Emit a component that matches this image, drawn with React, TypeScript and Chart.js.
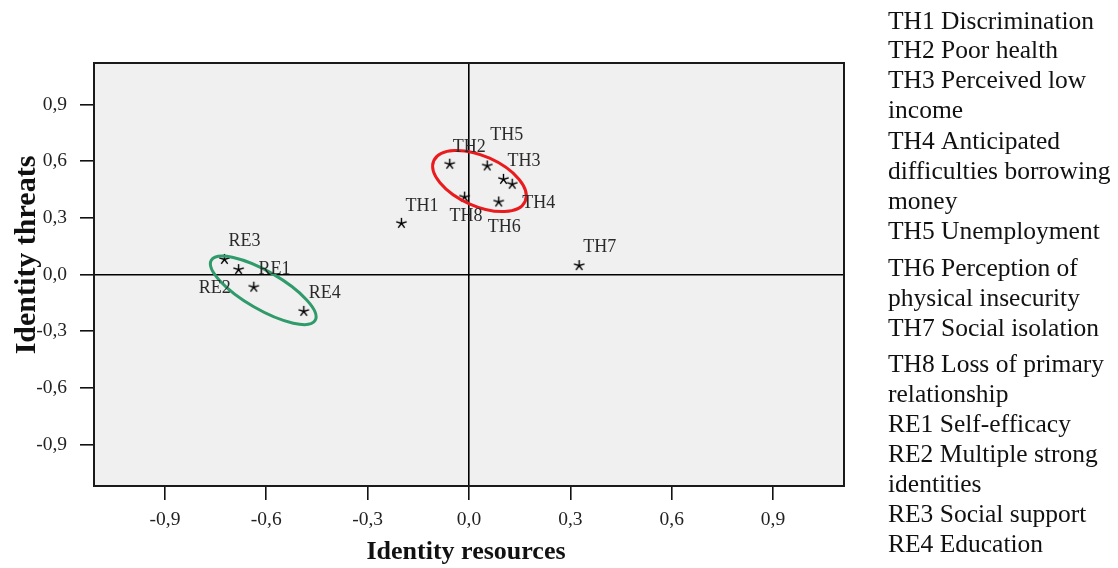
import React, { useEffect, useRef } from 'react';
import { Chart, registerables } from 'chart.js';

Chart.register(...registerables);

// Item codes and their coordinates on the two identity dimensions
const codes = ['TH1', 'TH2', 'TH3', 'TH4', 'TH5', 'TH6', 'TH7', 'TH8', 'RE1', 'RE2', 'RE3', 'RE4'];
const resources = [-0.2, -0.057, 0.102, 0.128, 0.054, 0.088, 0.326, -0.013, -0.682, -0.637, -0.724, -0.489];
const threats = [0.271, 0.584, 0.504, 0.478, 0.575, 0.384, 0.047, 0.41, 0.026, -0.067, 0.08, -0.195];

const tickValues = [-0.9, -0.6, -0.3, 0, 0.3, 0.6, 0.9];

const legendLines = [
  'TH1 Discrimination',
  'TH2 Poor health',
  'TH3 Perceived low',
  'income',
  'TH4 Anticipated',
  'difficulties borrowing',
  'money',
  'TH5 Unemployment',
  'TH6 Perception of',
  'physical insecurity',
  'TH7 Social isolation',
  'TH8 Loss of primary',
  'relationship',
  'RE1 Self-efficacy',
  'RE2 Multiple strong',
  'identities',
  'RE3 Social support',
  'RE4 Education',
];

// Layout of the key text (vertical centre of each line, px)
const legendY = [22, 51, 81, 111, 142, 172, 202, 232, 269, 299, 329, 365, 395, 425, 455, 485, 515, 545];

// Label placement relative to each marker (px)
const labelOffsets: [number, number][] = [
  [4, -17], [3, -17], [4, -18], [10, 19], [3, -31], [-11, 25],
  [4, -18], [-15, 19], [20, 0], [-55, 1], [4, -18], [5, -18],
];

// Cluster outlines: centre in data units, semi-axes in px, tilt in degrees
const clusters = [
  { cx: 0.031, cy: 0.495, rx: 50, ry: 25, rot: 24, color: '#ea1b1f' },
  { cx: -0.609, cy: -0.084, rx: 60, ry: 19, rot: 30, color: '#2f9a6a' },
];

const SERIF = '"Liberation Serif", "Times New Roman", serif';

const fmt = (v: number) => (Math.round(v * 10) / 10).toFixed(1).replace('.', ',');

function makeStar(): HTMLCanvasElement {
  const cv = document.createElement('canvas');
  cv.width = 13;
  cv.height = 13;
  const c = cv.getContext('2d')!;
  c.strokeStyle = '#000';
  c.lineWidth = 1.4;
  c.translate(6.5, 6.5);
  c.beginPath();
  for (let k = 0; k < 5; k++) {
    const a = -Math.PI / 2 + (k * 2 * Math.PI) / 5;
    c.moveTo(0, 0);
    c.lineTo(5.5 * Math.cos(a), 5.5 * Math.sin(a));
  }
  c.stroke();
  return cv;
}

const decor = {
  id: 'decor',
  beforeDraw(chart: any) {
    const { ctx, chartArea: a } = chart;
    ctx.save();
    ctx.fillStyle = '#f0f0f0';
    ctx.fillRect(a.left, a.top, a.right - a.left, a.bottom - a.top);
    ctx.restore();
  },
  afterDatasetsDraw(chart: any) {
    const { ctx, scales } = chart;
    const xs = scales.x;
    const ys = scales.y;
    ctx.save();
    clusters.forEach((e) => {
      ctx.beginPath();
      ctx.ellipse(xs.getPixelForValue(e.cx), ys.getPixelForValue(e.cy), e.rx, e.ry, (e.rot * Math.PI) / 180, 0, Math.PI * 2);
      ctx.strokeStyle = e.color;
      ctx.lineWidth = 3;
      ctx.stroke();
    });
    const meta = chart.getDatasetMeta(0);
    ctx.font = `18px ${SERIF}`;
    ctx.fillStyle = '#2a2a2a';
    ctx.textAlign = 'left';
    ctx.textBaseline = 'middle';
    meta.data.forEach((pt: any, i: number) => {
      const [dx, dy] = labelOffsets[i];
      ctx.fillText(codes[i], pt.x + dx, pt.y + dy);
    });
    ctx.restore();
  },
  afterDraw(chart: any) {
    const { ctx, chartArea: a } = chart;
    ctx.save();
    ctx.strokeStyle = '#1a1a1a';
    ctx.lineWidth = 2;
    ctx.strokeRect(a.left, a.top, a.right - a.left, a.bottom - a.top);

    ctx.fillStyle = '#111';
    ctx.font = `bold 26px ${SERIF}`;
    ctx.textAlign = 'center';
    ctx.textBaseline = 'middle';
    ctx.fillText('Identity resources', 466, 552);
    ctx.save();
    ctx.font = `bold 30px ${SERIF}`;
    ctx.translate(27, 255);
    ctx.rotate(-Math.PI / 2);
    ctx.fillText('Identity threats', 0, 0);
    ctx.restore();

    ctx.font = `25.5px ${SERIF}`;
    ctx.textAlign = 'left';
    ctx.fillStyle = '#111';
    legendLines.forEach((t, i) => ctx.fillText(t, 888, legendY[i]));
    ctx.restore();
  },
};

export default function App() {
  const ref = useRef<HTMLCanvasElement>(null);

  useEffect(() => {
    if (!ref.current) return;
    const star = makeStar();
    const axisCommon = (size: number, isX: boolean) => ({
      type: 'linear' as const,
      min: isX ? -1.11 : -1.12,
      max: isX ? 1.11 : 1.12,
      afterBuildTicks: (s: any) => {
        s.ticks = tickValues.map((v) => ({ value: v }));
      },
      afterFit: (s: any) => {
        if (isX) s.height = size;
        else s.width = size;
      },
      ticks: {
        autoSkip: false,
        maxRotation: 0,
        padding: isX ? 8 : 13,
        color: '#222',
        font: { family: SERIF, size: 19.5 },
        callback: (v: any) => fmt(Number(v)),
      },
      grid: {
        drawOnChartArea: true,
        color: (c: any) => (c.tick && Math.abs(c.tick.value) < 1e-9 ? '#000' : 'rgba(0,0,0,0)'),
        lineWidth: 1.6,
        tickColor: '#111',
        tickWidth: 1.6,
        tickLength: 14,
      },
      border: { display: true, color: '#1a1a1a', width: 2 },
    });

    const chart = new Chart(ref.current, {
      type: 'scatter',
      data: {
        datasets: [
          {
            data: resources.map((x, i) => ({ x, y: threats[i] })),
            pointStyle: star as any,
            pointRadius: 6,
            pointHoverRadius: 6,
          },
        ],
      },
      options: {
        responsive: false,
        animation: false,
        devicePixelRatio: 1,
        layout: { padding: { left: 0, top: 63, right: 274, bottom: 0 } },
        plugins: { legend: { display: false }, tooltip: { enabled: false } },
        scales: {
          x: axisCommon(82, true),
          y: axisCommon(94, false),
        },
      },
      plugins: [decor],
    });
    return () => chart.destroy();
  }, []);

  return (
    <div style={{ position: 'absolute', left: 0, top: 0, width: 1118, height: 568, background: '#fff' }}>
      <canvas ref={ref} width={1118} height={568} />
    </div>
  );
}
